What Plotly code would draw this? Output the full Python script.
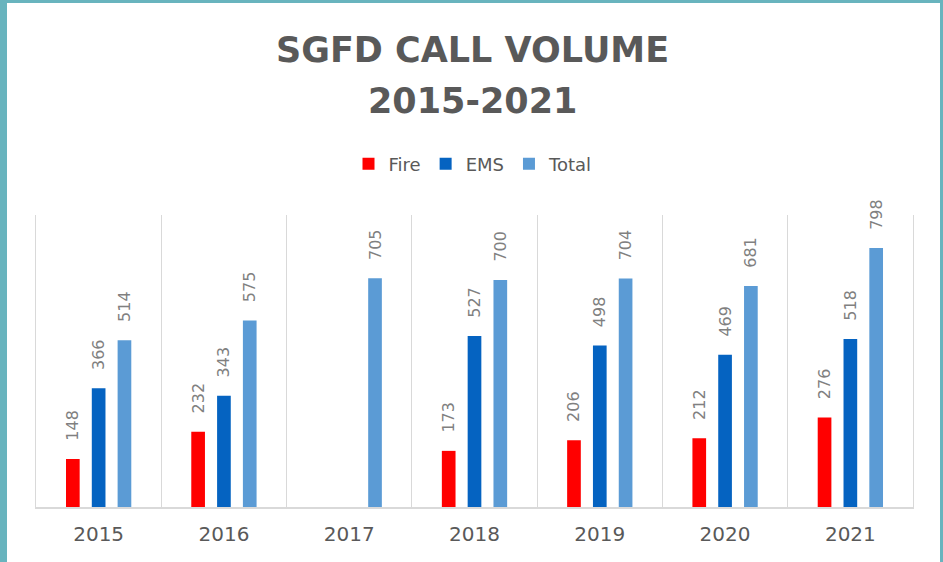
import plotly.graph_objects as go

years = ["2015", "2016", "2017", "2018", "2019", "2020", "2021"]
fire = [148, 232, None, 173, 206, 212, 276]
ems = [366, 343, None, 527, 498, 469, 518]
total = [514, 575, 705, 700, 704, 681, 798]

title_line1 = "SGFD CALL VOLUME"
title_line2 = "2015-2021"

series = [("Fire", fire, "#ff0000"), ("EMS", ems, "#0563c1"), ("Total", total, "#5b9bd5")]

fig = go.Figure()
for name, vals, col in series:
    fig.add_trace(go.Bar(
        x=years, y=vals, name=name, marker=dict(color=col, line=dict(width=0)),
        text=[("" if v is None else str(v)) for v in vals],
        texttemplate="\u00a0\u00a0\u00a0%{text}",
        textposition="outside", textangle=-90, constraintext="none", cliponaxis=False,
        textfont=dict(family="DejaVu Sans", size=16, color="#808080"),
        hoverinfo="skip",
    ))

L, R, T, B = 36, 913, 215, 507
W, H = 943, 562
def px(x):
    return (x - L) / (R - L)
def py(y):
    return (B - y) / (B - T)

title_font = dict(family="DejaVu Sans", size=35, color="#595959", weight="bold")

fig.update_layout(
    width=W, height=H,
    margin=dict(l=L, r=W - R, t=T, b=H - B, pad=0),
    paper_bgcolor="#68b4be", plot_bgcolor="white",
    barmode="group", bargap=0.382, bargroupgap=0.47,
    title=dict(text=title_line1, x=px(472.5) * (R - L) / W + L / W, xanchor="center",
               y=1 - 50 / H, yanchor="middle", font=title_font),
    annotations=[dict(text=title_line2, xref="paper", yref="paper", x=px(472), y=py(101),
                      xanchor="center", yanchor="middle", showarrow=False, font=title_font)],
    legend=dict(orientation="h", x=px(473), xanchor="center", y=py(164), yanchor="middle",
                font=dict(family="DejaVu Sans", size=18, color="#595959"),
                bgcolor="rgba(0,0,0,0)"),
    xaxis=dict(type="category", showgrid=True, gridcolor="#d9d9d9", gridwidth=1,
               tickson="boundaries", ticks="", showline=True, linecolor="#d9d9d9",
               linewidth=1.5, ticklabelstandoff=8,
               tickfont=dict(family="DejaVu Sans", size=20, color="#595959"),
               range=[-0.5, 6.5]),
    yaxis=dict(range=[0, 900], showgrid=False, showticklabels=False, zeroline=False,
               showline=True, mirror=True, linecolor="#d9d9d9", linewidth=1),
    shapes=[dict(type="rect", xref="paper", yref="paper", layer="below",
                 x0=px(7), x1=px(940), y0=py(3), y1=py(H + 5),
                 fillcolor="white", line=dict(width=0))],
)

fig.write_html("out.html")
